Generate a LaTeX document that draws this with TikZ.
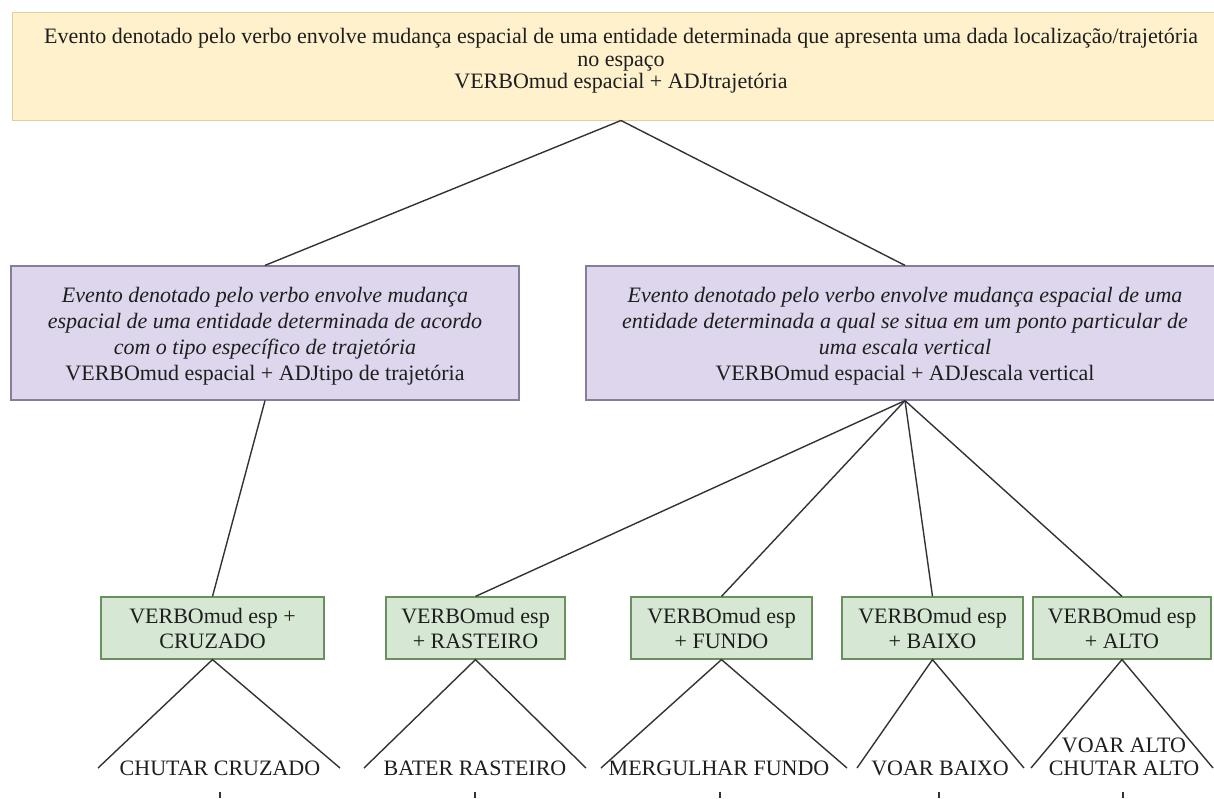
\documentclass[tikz,border=0pt]{standalone}
\usepackage{fontspec}
\setmainfont{Liberation Serif}
\definecolor{txt}{HTML}{1E1E1E}
\definecolor{edge}{HTML}{333333}
\definecolor{yfill}{HTML}{FEF1CC}
\definecolor{ydraw}{HTML}{E2D09C}
\definecolor{pfill}{HTML}{DDD6EC}
\definecolor{pdraw}{HTML}{857D9A}
\definecolor{gfill}{HTML}{D6E8D3}
\definecolor{gdraw}{HTML}{6A9060}
\begin{document}
\begin{tikzpicture}[x=1pt,y=-1pt,
  every node/.style={text=txt,font=\fontsize{22}{25}\selectfont,inner sep=0pt,align=center},
  topbox/.style={draw=ydraw,fill=yfill,line width=1pt,minimum height=108pt},
  midbox/.style={draw=pdraw,fill=pfill,line width=1.2pt,minimum height=134pt},
  midtext/.style={font=\fontsize{22}{26}\selectfont},
  leafbox/.style={draw=gdraw,fill=gfill,line width=1.2pt,minimum height=62pt,font=\fontsize{22}{25}\selectfont},
  leaftext/.style={font=\fontsize{22}{23}\selectfont},
  link/.style={draw=edge,line width=1.4pt},
  tickmark/.style={draw=edge,line width=1.2pt}]
\useasboundingbox (0,0) rectangle (1214,798);
\clip (0,0) rectangle (1214,798);
\fill[white] (0,0) rectangle (1214,798);

% root
\node[topbox,minimum width=1218pt] (root) at (621,66) {};
\node[font=\fontsize{22}{22.5}\selectfont] (roottext) at (621,61)
  {Evento denotado pelo verbo envolve mudança espacial de uma entidade determinada que apresenta uma dada localização/trajetória\\
   no espaço\\
   VERBOmud espacial + ADJtrajetória};

% second level
\node[midbox,minimum width=508pt] (trj) at (265,333) {};
\node[midtext] (trjtext) at (265,336)
  {\itshape Evento denotado pelo verbo envolve mudança\\
   \itshape espacial de uma entidade determinada de acordo\\
   \itshape com o tipo específico de trajetória\\
   VERBOmud espacial + ADJtipo de trajetória};
\node[midbox,minimum width=638pt] (esc) at (905,333) {};
\node[midtext] (esctext) at (905,336)
  {\itshape Evento denotado pelo verbo envolve mudança espacial de uma\\
   \itshape entidade determinada a qual se situa em um ponto particular de\\
   \itshape uma escala vertical\\
   VERBOmud espacial + ADJescala vertical};

% third level
\node[leafbox,minimum width=223pt] (cru) at (212.5,628) {VERBOmud esp +\\CRUZADO};
\node[leafbox,minimum width=179pt] (ras) at (475.5,628) {VERBOmud esp\\+ RASTEIRO};
\node[leafbox,minimum width=181pt] (fun) at (721.5,628) {VERBOmud esp\\+ FUNDO};
\node[leafbox,minimum width=181pt] (bai) at (932.5,628) {VERBOmud esp\\+ BAIXO};
\node[leafbox,minimum width=178pt] (alt) at (1122,628) {VERBOmud esp\\+ ALTO};

% examples
\node[leaftext] (ex1) at (220,768) {CHUTAR CRUZADO};
\node[leaftext] (ex2) at (475,768) {BATER RASTEIRO};
\node[leaftext] (ex3) at (719,768) {MERGULHAR FUNDO};
\node[leaftext] (ex4) at (940,768) {VOAR BAIXO};
\node[leaftext] (ex5) at (1124,756.5) {VOAR ALTO\\CHUTAR ALTO};

% triangle corners over the examples
\coordinate (e1l) at (98,768);   \coordinate (e1r) at (340,768);
\coordinate (e2l) at (364,768);  \coordinate (e2r) at (586,768);
\coordinate (e3l) at (601,768);  \coordinate (e3r) at (847,768);
\coordinate (e4l) at (857,768);  \coordinate (e4r) at (1024,768);
\coordinate (e5l) at (1031,768); \coordinate (e5r) at (1213,768);

% tree edges
\draw[link] (root.south) -- (trj.north);
\draw[link] (root.south) -- (esc.north);
\draw[link] (trj.south) -- (cru.north);
\foreach \n in {ras,fun,bai,alt}
  \draw[link] (esc.south) -- (\n.north);
\draw[link] (e1l) -- (cru.south) -- (e1r);
\draw[link] (e2l) -- (ras.south) -- (e2r);
\draw[link] (e3l) -- (fun.south) -- (e3r);
\draw[link] (e4l) -- (bai.south) -- (e4r);
\draw[link] (e5l) -- (alt.south) -- (e5r);

% small marks along the lower edge
\foreach \x in {220,475,720,939,1123}
  \draw[tickmark] (\x,792) -- (\x,798);
\end{tikzpicture}
\end{document}
